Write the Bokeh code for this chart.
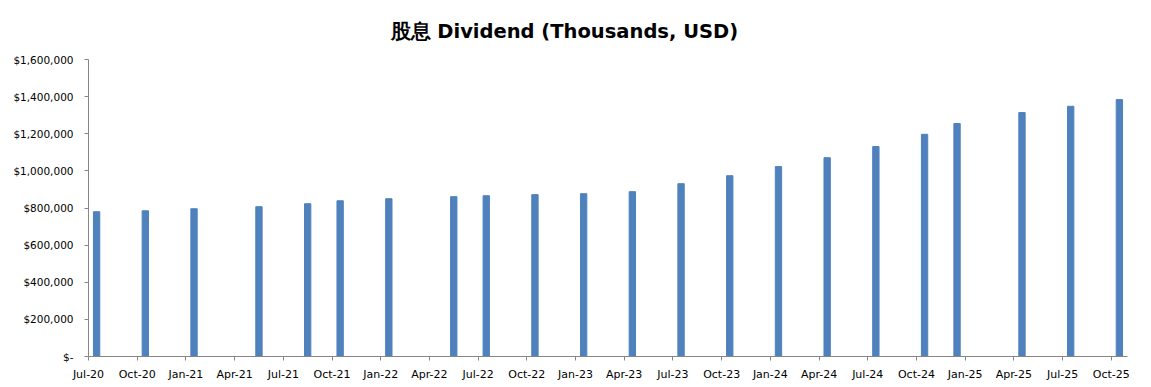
from bokeh.plotting import figure
from bokeh.models import FixedTicker, Title, NumeralTickFormatter, ColumnDataSource, Range1d
from bokeh.embed import file_html
from bokeh.resources import INLINE

# Payment months and dividend amounts
months = ["2020-07", "2020-10", "2021-01", "2021-05", "2021-08", "2021-10",
          "2022-01", "2022-05", "2022-07", "2022-10", "2023-01", "2023-04",
          "2023-07", "2023-10", "2024-01", "2024-04", "2024-07", "2024-10",
          "2024-12", "2025-04", "2025-07", "2025-10"]
dividend = [780000, 785000, 796000, 807000, 823000, 839000,
            850000, 861000, 866000, 872000, 877000, 888000,
            931000, 974000, 1023000, 1071000, 1131000, 1197000,
            1255000, 1314000, 1348000, 1384000]
tick_labels = ["Jul-20", "Oct-20", "Jan-21", "Apr-21", "Jul-21", "Oct-21",
               "Jan-22", "Apr-22", "Jul-22", "Oct-22", "Jan-23", "Apr-23",
               "Jul-23", "Oct-23", "Jan-24", "Apr-24", "Jul-24", "Oct-24",
               "Jan-25", "Apr-25", "Jul-25", "Oct-25"]
y_ticks = [0, 200000, 400000, 600000, 800000, 1000000, 1200000, 1400000, 1600000]
title_text = "股息 Dividend (Thousands, USD)"

START_Y, START_M = 2020, 7


def month_index(s):
    y, m = s.split("-")
    return (int(y) - START_Y) * 12 + int(m) - START_M


n_months = month_index("2025-10") + 1
xs = [month_index(m) + 0.5 for m in months]
src = ColumnDataSource(dict(x=xs, top=dividend))

p = figure(width=1151, height=387, output_backend="svg", toolbar_location=None,
           x_range=Range1d(0, n_months), y_range=Range1d(0, 1600000),
           min_border_left=88, min_border_right=24, min_border_bottom=31,
           min_border_top=10)
p.title = None

bottom_axis = p.below[0]
left_axis = p.left[0]

title = Title(text=title_text, align="left", offset=302,
              text_font="DejaVu Sans", text_font_style="bold",
              text_font_size="19.5px", text_color="#000000", standoff=34)
p.add_layout(title, "above")

p.vbar(x="x", top="top", width=0.39, source=src, color="#4F81BD")

p.outline_line_color = None
p.xgrid.visible = False
p.ygrid.visible = False

tick_pos = [month_index(f"{2020 + (7 + 3 * i - 1) // 12}-{(7 + 3 * i - 1) % 12 + 1:02d}")
            for i in range(len(tick_labels))]
bottom_axis.ticker = FixedTicker(ticks=tick_pos)
bottom_axis.major_label_overrides = {t: l for t, l in zip(tick_pos, tick_labels)}
left_axis.ticker = FixedTicker(ticks=y_ticks)
left_axis.formatter = NumeralTickFormatter(format="$0,0")
left_axis.major_label_overrides = {0: "$-"}

for ax in (bottom_axis, left_axis):
    ax.axis_line_color = "#868686"
    ax.major_tick_line_color = "#868686"
    ax.minor_tick_line_color = None
    ax.major_tick_in = 0
    ax.major_tick_out = 4
    ax.major_label_text_font = "DejaVu Sans"
    ax.major_label_text_color = "#000000"
bottom_axis.major_label_text_font_size = "11px"
bottom_axis.major_label_standoff = 7
left_axis.major_label_text_font_size = "10.5px"
left_axis.major_label_standoff = 11

open("out.html", "w").write(file_html(p, INLINE))
